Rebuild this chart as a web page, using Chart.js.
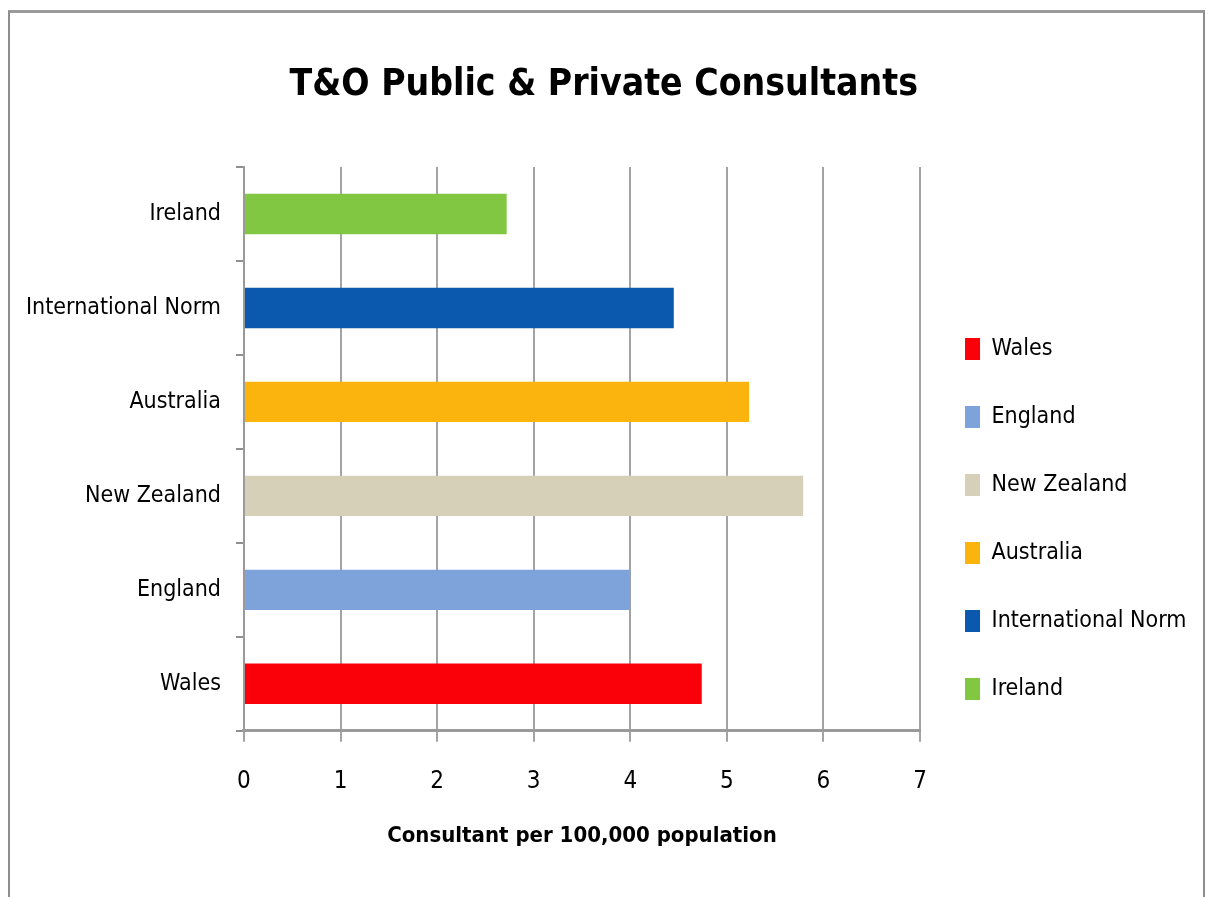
<!DOCTYPE html>
<html>
<head>
<meta charset="utf-8">
<script src="https://cdn.jsdelivr.net/npm/chart.js@4"></script>
<style>
  html, body { margin: 0; padding: 0; background: #fff; }
  #wrap { position: relative; width: 1210px; height: 897px; overflow: hidden; }
  #frame { position: absolute; left: 8px; top: 10px; width: 1197px; height: 900px;
           border: 2px solid #8e8e8e; border-top: 3px solid #9a9a9a; box-sizing: border-box; pointer-events: none; }
  canvas { position: absolute; left: 0; top: 0; }
</style>
</head>
<body>
<div id="wrap">
  <canvas id="c" width="1210" height="897"></canvas>
  <div id="frame"></div>
</div>
<script>
// Data (bottom-to-top order as in the source chart)
const categories = ["Wales", "England", "New Zealand", "Australia", "International Norm", "Ireland"];
const values = [4.74, 4.0, 5.79, 5.23, 4.45, 2.72];
const barColors = ["#FA0008", "#7DA3DA", "#D5D0B7", "#FBB40D", "#0B59AF", "#82C742"];
const xTicks = [0, 1, 2, 3, 4, 5, 6, 7];
const chartTitle = "T&O Public & Private Consultants";
const xAxisTitle = "Consultant per 100,000 population";

const FONT = "'Liberation Sans Narrow', 'Arial Narrow', 'DejaVu Sans Condensed', sans-serif";

new Chart(document.getElementById('c'), {
  type: 'bar',
  data: {
    labels: categories,
    datasets: [{
      data: values,
      backgroundColor: barColors,
      borderWidth: 0,
      barPercentage: 0.43,
      categoryPercentage: 1.0
    }]
  },
  options: {
    indexAxis: 'y',
    responsive: false,
    animation: false,
    devicePixelRatio: 1,
    layout: { padding: { left: 11, right: 13.5, top: 0, bottom: 44 } },
    scales: {
      x: {
        min: xTicks[0],
        max: xTicks[xTicks.length - 1],
        afterBuildTicks: (s) => { s.ticks = xTicks.map(v => ({ value: v })); },
        ticks: { color: '#000', font: { family: FONT, size: 24 }, padding: 26 },
        grid: { color: '#a3a3a3', lineWidth: 2, tickLength: 11, drawTicks: true },
        border: { color: '#9a9a9a', width: 3 },
        title: { display: true, text: xAxisTitle, color: '#000',
                 font: { family: FONT, size: 22, weight: 'bold' }, padding: { top: 0, bottom: 4 } }
      },
      y: {
        reverse: true,
        ticks: { color: '#000', font: { family: FONT, size: 23 }, padding: 15 },
        grid: { drawOnChartArea: false, drawTicks: true, tickLength: 8, color: '#8f8f8f', lineWidth: 2, offset: true },
        border: { color: '#9a9a9a', width: 2 }
      }
    },
    plugins: {
      title: {
        display: true,
        text: chartTitle,
        color: '#000',
        font: { family: FONT, size: 37, weight: 'bold' },
        padding: { top: 63, bottom: 59.6 }
      },
      legend: {
        display: true,
        position: 'right',
        align: 'start',
        title: { display: true, text: '', font: { size: 12 }, padding: { top: 278.1, bottom: 0 } },
        labels: {
          color: '#000',
          font: { family: FONT, size: 23 },
          boxWidth: 15,
          boxHeight: 22,
          padding: 45,
          generateLabels: () => categories.map((c, i) => ({
            text: c, fillStyle: barColors[i], strokeStyle: barColors[i], lineWidth: 0,
            hidden: false, index: i, datasetIndex: 0, fontColor: '#000'
          }))
        }
      },
      tooltip: { enabled: false }
    }
  }
});
</script>
</body>
</html>
